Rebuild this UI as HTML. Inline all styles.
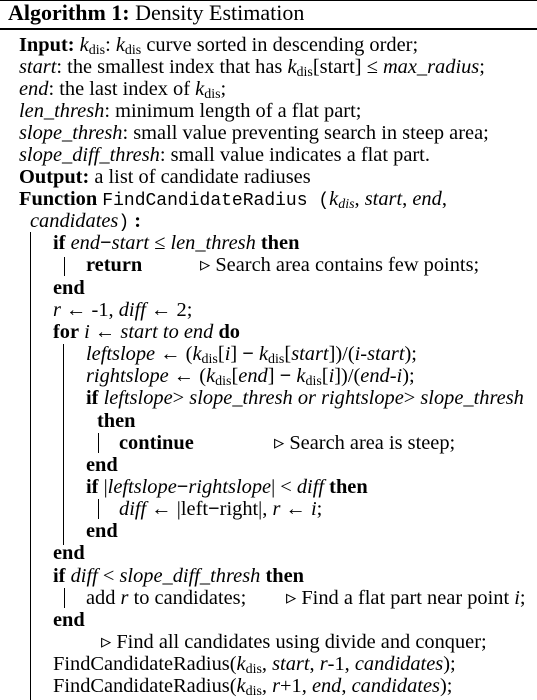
<!DOCTYPE html>
<html><head><meta charset="utf-8"><style>
body{margin:0;width:537px;height:700px;background:#fff;overflow:hidden;position:relative;font-family:"Liberation Serif",serif;font-size:20.4px;color:#000}
.l{position:absolute;white-space:nowrap;line-height:22px;height:22px}
b{font-weight:bold}
sub{font-size:14px;vertical-align:-3px;line-height:0}
.m{font-family:"Liberation Mono",monospace;font-size:18px}
.v{position:absolute;width:1.2px;background:#000}
.h{position:absolute;left:0;width:537px;background:#000}
</style></head><body>
<div class="h" style="top:0;height:1px"></div>
<div class="l" style="left:8px;top:2px;font-size:22px"><b>Algorithm 1:</b> Density Estimation</div>
<div class="h" style="top:28px;height:1.5px"></div>

<div class="v" style="left:30px;top:232px;height:468px"></div>
<div class="v" style="left:64px;top:257px;height:19px"></div>
<div class="v" style="left:63px;top:344px;height:201px"></div>
<div class="v" style="left:98px;top:433px;height:20px"></div>
<div class="v" style="left:98px;top:499px;height:20px"></div>
<div class="v" style="left:64px;top:588px;height:20px"></div>

<div class="l" style="left:19px;top:34px"><b>Input:</b> <i>k</i><sub>dis</sub>: <i>k</i><sub>dis</sub> curve sorted in descending order;</div>
<div class="l" style="left:19px;top:56px"><i>start</i>: the smallest index that has <i>k</i><sub>dis</sub>[start] ≤ <i>max_radius</i>;</div>
<div class="l" style="left:19px;top:78px"><i>end</i>: the last index of <i>k</i><sub>dis</sub>;</div>
<div class="l" style="left:19px;top:100px"><i>len_thresh</i>: minimum length of a flat part;</div>
<div class="l" style="left:19px;top:122px"><i>slope_thresh</i>: small value preventing search in steep area;</div>
<div class="l" style="left:19px;top:144px"><i>slope_diff_thresh</i>: small value indicates a flat part.</div>
<div class="l" style="left:19px;top:166px"><b>Output:</b> a list of candidate radiuses</div>
<div class="l" style="left:19px;top:188px"><b>Function</b> <span class="m">FindCandidateRadius (</span><i>k<sub>dis</sub></i>, <i>start</i>, <i>end</i>,</div>
<div class="l" style="left:30px;top:210px"><i>candidates</i><span class="m">)</span><b> :</b></div>
<div class="l" style="left:53px;top:232px"><b>if</b> <i>end</i><b>−</b><i>start</i> ≤ <i>len_thresh</i> <b>then</b></div>
<div class="l" style="left:86px;top:254px"><b>return</b></div>
<div class="l" style="left:200px;top:254px">▹ Search area contains few points;</div>
<div class="l" style="left:53px;top:277px"><b>end</b></div>
<div class="l" style="left:53px;top:299px"><i>r</i> ← -1, <i>diff</i> ← 2;</div>
<div class="l" style="left:53px;top:321px"><b>for</b> <i>i</i> ← <i>start to end</i> <b>do</b></div>
<div class="l" style="left:86px;top:343px"><i>leftslope</i> ← (<i>k</i><sub>dis</sub>[<i>i</i>] <b>−</b> <i>k</i><sub>dis</sub>[<i>start</i>])/(<i>i-start</i>);</div>
<div class="l" style="left:86px;top:365px"><i>rightslope</i> ← (<i>k</i><sub>dis</sub>[<i>end</i>] <b>−</b> <i>k</i><sub>dis</sub>[<i>i</i>])/(<i>end-i</i>);</div>
<div class="l" style="left:86px;top:387px"><b>if</b> <i>leftslope</i>&gt; <i>slope_thresh or rightslope</i>&gt; <i>slope_thresh</i></div>
<div class="l" style="left:97px;top:410px"><b>then</b></div>
<div class="l" style="left:119px;top:432px"><b>continue</b></div>
<div class="l" style="left:274px;top:432px">▹ Search area is steep;</div>
<div class="l" style="left:86px;top:454px"><b>end</b></div>
<div class="l" style="left:86px;top:476px"><b>if</b> |<i>leftslope</i><b>−</b><i>rightslope</i>| &lt; <i>diff</i> <b>then</b></div>
<div class="l" style="left:119px;top:498px"><i>diff</i> ← |left<b>−</b>right|, <i>r</i> ← <i>i</i>;</div>
<div class="l" style="left:86px;top:520px"><b>end</b></div>
<div class="l" style="left:53px;top:542px"><b>end</b></div>
<div class="l" style="left:53px;top:565px"><b>if</b> <i>diff</i> &lt; <i>slope_diff_thresh</i> <b>then</b></div>
<div class="l" style="left:86px;top:587px">add <i>r</i> to candidates;</div>
<div class="l" style="left:286px;top:587px">▹ Find a flat part near point <i>i</i>;</div>
<div class="l" style="left:53px;top:609px"><b>end</b></div>
<div class="l" style="left:101px;top:631px">▹ Find all candidates using divide and conquer;</div>
<div class="l" style="left:53px;top:653px">FindCandidateRadius(<i>k</i><sub>dis</sub>, <i>start</i>, <i>r</i>-1, <i>candidates</i>);</div>
<div class="l" style="left:53px;top:675px">FindCandidateRadius(<i>k</i><sub>dis</sub>, <i>r</i>+1, <i>end</i>, <i>candidates</i>);</div>
</body></html>
